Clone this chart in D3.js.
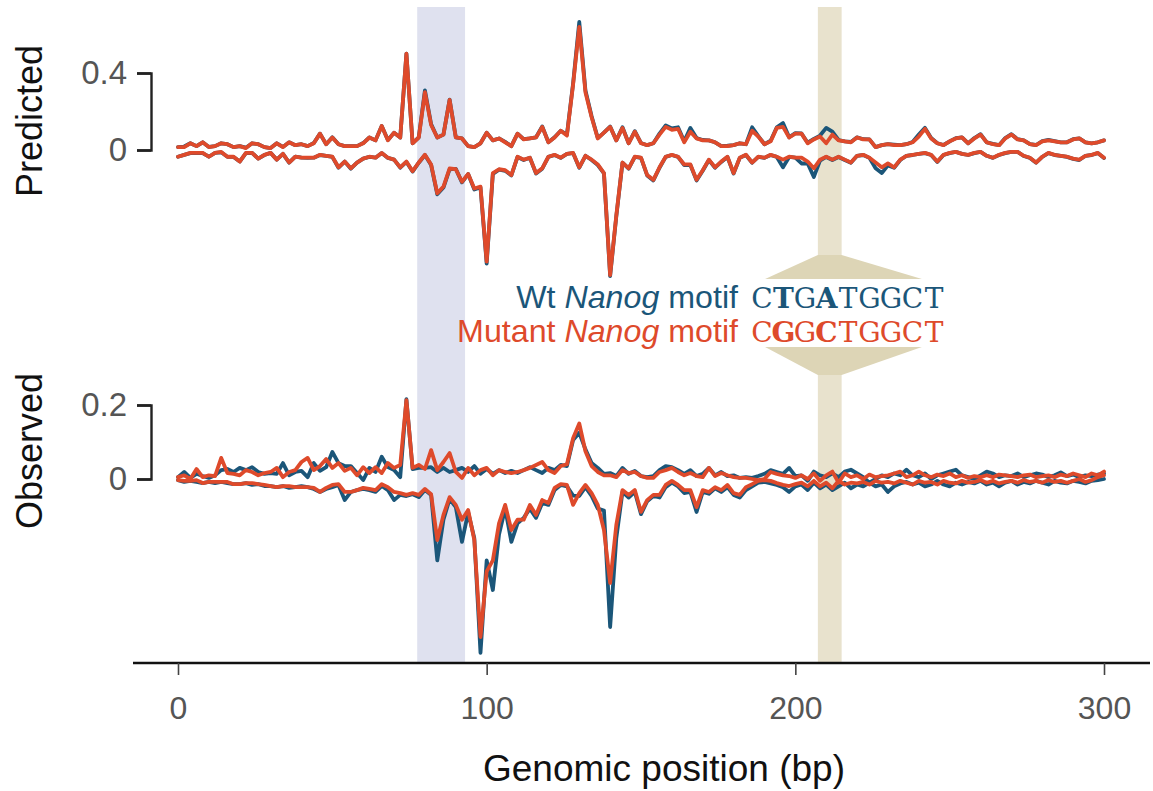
<!DOCTYPE html>
<html>
<head>
<meta charset="utf-8">
<script src="https://cdn.jsdelivr.net/npm/d3@7"></script>
<style>
  body { margin: 0; background: #fff; }
  svg { display: block; }
</style>
</head>
<body>
<svg id="chart" width="1153" height="791"></svg>
<script>
// Genomic positions (bp) at which the profiles are sampled
const positions = d3.range(0, 301, 2);

// Predicted profiles: positive strand (above zero) and negative strand (below zero)
const predWtPos = [
  .015,.018,.035,.02,.04,.016,.02,.035,.03,.015,
  .02,.012,.035,.03,.015,.01,.035,.016,.04,.025,
  .03,.02,.036,.085,.03,.066,.03,.02,.02,.02,
  .036,.065,.05,.125,.052,.09,.065,.50,.035,.066,
  .31,.135,.065,.08,.262,.066,.06,.02,.015,.035,
  .09,.05,.06,.042,.02,.085,.056,.06,.066,.122,
  .04,.066,.10,.08,.345,.665,.31,.175,.062,.09,
  .122,.05,.118,.035,.098,.036,.025,.035,.085,.128,
  .112,.118,.045,.115,.062,.052,.05,.04,.02,.022,
  .025,.035,.03,.118,.072,.03,.048,.118,.14,.066,
  .088,.086,.038,.058,.075,.115,.095,.052,.045,.042,
  .066,.056,.055,.015,.025,.03,.028,.025,.03,.042,
  .08,.115,.062,.035,.026,.045,.062,.066,.035,.062,
  .082,.04,.032,.025,.062,.082,.056,.05,.03,.026,
  .046,.052,.046,.04,.04,.056,.06,.04,.035,.04,
  .05
];
const predMutPos = [
  .015,.015,.035,.02,.04,.015,.02,.035,.03,.015,
  .02,.01,.035,.03,.015,.01,.035,.015,.04,.025,
  .03,.02,.035,.085,.03,.065,.03,.02,.02,.02,
  .035,.065,.05,.125,.05,.09,.065,.50,.035,.065,
  .30,.13,.065,.08,.26,.065,.06,.02,.015,.035,
  .09,.05,.06,.04,.02,.085,.055,.06,.065,.12,
  .04,.065,.10,.075,.34,.64,.30,.17,.06,.09,
  .12,.05,.115,.035,.095,.035,.025,.035,.08,.12,
  .105,.11,.04,.095,.06,.05,.05,.04,.02,.02,
  .025,.035,.03,.10,.07,.03,.045,.115,.12,.065,
  .085,.085,.035,.055,.07,.035,.08,.05,.045,.04,
  .065,.055,.055,.015,.025,.03,.025,.025,.03,.04,
  .07,.11,.06,.035,.025,.045,.06,.065,.035,.06,
  .08,.04,.03,.025,.06,.08,.055,.05,.03,.025,
  .045,.05,.045,.04,.04,.055,.06,.04,.035,.04,
  .05
];
const predWtNeg = [
  -.035,-.025,-.016,-.015,-.016,-.035,-.015,-.012,-.035,-.036,
  -.06,-.016,-.015,-.045,-.026,-.015,-.05,-.02,-.066,-.035,
  -.04,-.041,-.04,-.026,-.03,-.036,-.092,-.06,-.097,-.066,
  -.045,-.036,-.04,-.016,-.041,-.05,-.092,-.062,-.112,-.066,
  -.026,-.078,-.23,-.195,-.10,-.098,-.168,-.125,-.205,-.195,
  -.59,-.125,-.102,-.108,-.132,-.036,-.052,-.04,-.122,-.097,
  -.036,-.026,-.041,-.02,-.016,-.092,-.03,-.052,-.078,-.122,
  -.655,-.345,-.066,-.097,-.036,-.041,-.132,-.158,-.092,-.036,
  -.026,-.036,-.078,-.078,-.158,-.108,-.052,-.092,-.062,-.036,
  -.122,-.041,-.026,-.066,-.036,-.041,-.026,-.036,-.09,-.036,
  -.04,-.07,-.07,-.14,-.055,-.036,-.052,-.036,-.052,-.066,
  -.03,-.026,-.041,-.095,-.12,-.08,-.092,-.052,-.03,-.026,
  -.02,-.016,-.026,-.062,-.026,-.016,-.01,-.02,-.026,-.016,
  -.01,-.03,-.041,-.026,-.016,-.01,-.01,-.031,-.041,-.066,
  -.036,-.016,-.026,-.03,-.036,-.046,-.052,-.03,-.026,-.016,
  -.042
];
const predMutNeg = [
  -.035,-.025,-.015,-.015,-.015,-.035,-.015,-.01,-.035,-.035,
  -.06,-.015,-.015,-.045,-.025,-.015,-.05,-.02,-.065,-.035,
  -.04,-.04,-.04,-.025,-.03,-.035,-.09,-.06,-.095,-.065,
  -.045,-.035,-.04,-.015,-.04,-.05,-.09,-.06,-.11,-.065,
  -.025,-.075,-.225,-.19,-.095,-.10,-.165,-.125,-.20,-.19,
  -.58,-.12,-.10,-.105,-.13,-.035,-.05,-.04,-.12,-.095,
  -.035,-.025,-.04,-.02,-.015,-.09,-.03,-.05,-.075,-.12,
  -.65,-.34,-.065,-.095,-.035,-.04,-.13,-.155,-.09,-.035,
  -.025,-.035,-.075,-.075,-.155,-.105,-.05,-.09,-.06,-.035,
  -.12,-.04,-.025,-.065,-.035,-.04,-.025,-.035,-.05,-.035,
  -.04,-.04,-.06,-.095,-.05,-.035,-.05,-.035,-.05,-.065,
  -.03,-.025,-.04,-.065,-.09,-.07,-.09,-.05,-.03,-.025,
  -.02,-.015,-.025,-.06,-.025,-.015,-.01,-.02,-.025,-.015,
  -.01,-.03,-.04,-.025,-.015,-.01,-.01,-.03,-.04,-.065,
  -.035,-.015,-.025,-.03,-.035,-.045,-.05,-.03,-.025,-.015,
  -.04
];

// Observed profiles
const obsWtPos = [
  .005,.019,.003,.014,.008,.003,.01,.024,.027,.019,
  .03,.024,.032,.019,.014,.016,.014,.043,.01,.019,
  .022,.005,.043,.022,.032,.073,.043,.035,.035,.016,
  -.003,.03,.019,.06,.032,.024,.005,.216,.027,.03,
  .03,.032,.019,.03,.019,.024,.03,.019,.035,.014,
  .027,.014,.024,.016,.022,.016,.024,.032,.024,.016,
  .03,.024,.038,.035,.105,.125,.08,.043,.03,.014,
  .016,.008,.03,.014,.022,.008,.005,.008,.024,.035,
  .032,.024,.014,.024,.008,.014,.03,.01,.019,.008,
  .01,.003,.005,.003,.008,.014,.024,.019,.014,.03,
  .008,.01,-.005,.02,.01,.005,.015,.005,.02,.025,
  .015,.005,-.01,0,.01,.005,.015,.01,.025,.01,
  .005,.015,0,.01,.015,.02,.025,.01,.005,0,
  .01,.02,.015,.005,.01,.008,.015,.005,.01,.015,
  .012,.005,.01,.018,.008,.012,.005,.01,.008,.012,
  .015
];
const obsMutPos = [
  .005,.01,0,.027,.005,.01,.008,.057,.016,.014,
  .01,.024,.019,.01,.016,.019,.03,.005,.019,.024,
  .046,.057,.024,.035,.054,.03,.043,.022,.03,.01,
  .032,.016,.032,.016,.043,.03,.038,.213,.03,.038,
  .027,.078,.024,.046,.07,.019,.003,.03,.01,.024,
  .03,.01,.024,.019,.016,.019,.024,.03,.038,.046,
  .024,.016,.035,.04,.11,.15,.075,.035,.019,.01,
  .01,.005,.024,.016,.019,.008,.003,.003,.019,.024,
  .03,.019,.01,.016,.008,.005,.03,.008,.016,.01,
  .005,.003,.003,0,-.003,0,.019,.014,.01,.008,
  .003,.01,0,.015,-.005,.01,.02,-.01,.015,.005,
  .01,0,.012,.005,.008,.01,.015,.02,.005,.01,
  .02,.01,.005,.012,.008,.015,.005,.01,.003,.008,
  .005,.01,.005,.012,.01,.008,.005,.01,.012,.005,
  .008,.01,.005,.012,.008,.015,.01,.005,.015,.01,
  .02
];
const obsWtNeg = [
  -.003,-.008,-.005,-.008,-.011,-.008,-.011,-.008,-.011,-.014,
  -.014,-.011,-.016,-.014,-.019,-.019,-.022,-.019,-.024,-.022,
  -.019,-.022,-.027,-.035,-.027,-.022,-.016,-.057,-.035,-.03,
  -.027,-.03,-.035,-.019,-.03,-.057,-.043,-.046,-.041,-.049,
  -.03,-.043,-.22,-.11,-.054,-.076,-.17,-.09,-.16,-.47,
  -.22,-.30,-.15,-.08,-.17,-.12,-.105,-.08,-.105,-.065,
  -.07,-.03,-.016,-.02,-.045,-.046,-.022,-.046,-.08,-.085,
  -.40,-.16,-.035,-.05,-.035,-.095,-.06,-.046,-.05,-.022,
  -.01,-.02,-.038,-.035,-.089,-.035,-.04,-.025,-.035,-.022,
  -.043,-.05,-.03,-.02,-.01,-.008,-.012,-.016,-.022,-.035,
  -.02,-.015,-.03,-.01,-.025,-.015,-.03,-.02,-.01,-.025,
  -.015,-.02,-.01,-.02,-.015,-.035,-.02,-.012,-.008,-.015,
  -.01,-.02,-.015,-.005,-.015,-.02,-.01,-.015,-.008,-.012,
  -.005,-.015,-.01,-.02,-.01,-.005,-.015,-.008,-.012,-.005,
  -.01,-.015,-.005,-.01,-.012,-.005,-.008,-.012,-.005,-.003,
  0
];
const obsMutNeg = [
  -.003,-.005,-.005,-.003,-.011,-.008,-.008,-.008,-.008,-.014,
  -.014,-.011,-.011,-.014,-.016,-.019,-.022,-.019,-.019,-.022,
  -.022,-.022,-.024,-.035,-.024,-.016,-.014,-.035,-.035,-.03,
  -.024,-.027,-.03,-.014,-.022,-.035,-.038,-.043,-.038,-.043,
  -.027,-.041,-.165,-.097,-.049,-.07,-.11,-.084,-.165,-.427,
  -.25,-.22,-.12,-.07,-.138,-.11,-.11,-.07,-.097,-.057,
  -.065,-.024,-.014,-.016,-.07,-.038,-.016,-.038,-.07,-.138,
  -.281,-.124,-.03,-.043,-.03,-.089,-.057,-.043,-.043,-.016,
  -.005,-.016,-.03,-.03,-.076,-.03,-.035,-.022,-.03,-.016,
  -.038,-.043,-.022,-.014,-.005,-.003,-.005,-.011,-.016,-.019,
  -.014,-.01,-.02,-.005,-.02,-.01,-.025,-.005,-.015,-.01,
  -.012,-.008,-.015,-.005,-.01,-.008,-.012,-.005,-.01,-.015,
  -.005,-.01,-.008,-.015,-.005,-.01,-.012,-.005,-.01,-.008,
  -.003,-.01,-.005,-.012,-.008,-.005,-.01,-.003,-.008,-.005,
  -.01,-.003,-.008,-.005,-.01,-.005,0,-.008,-.003,.005,
  .01
];

// Highlighted regions (bp)
const regionStart = [77.5, 207.3];
const regionEnd   = [93, 215];

// Axis ticks
const xTicks = [0, 100, 200, 300];
const predTicks = [0, 0.4];
const obsTicks = [0, 0.2];

// Motif annotation
const motifLabels = ["Wt", "Mutant"];
const motifSeqs = ["CTGATGGCT", "CGGCTGGCT"];
const motifChanged = [1, 3];

// ---- styling ----
const WT_COLOR = "#1b5679";
const MUT_COLOR = "#de4a2b";
const SANS = "'Liberation Sans', Arial, Helvetica, sans-serif";

const svg = d3.select("#chart");
svg.append("rect").attr("width", 1153).attr("height", 791).attr("fill", "#fff");

const x = d3.scaleLinear().domain([0, 300]).range([178, 1104]);
const yPred = d3.scaleLinear().domain([0, 0.4]).range([150, 73]);
const yObs = d3.scaleLinear().domain([0, 0.2]).range([479, 405]);

const axisY = 663;
const bandTop = 7;

// Lavender region (full height)
svg.append("rect")
  .attr("x", x(regionStart[0])).attr("y", bandTop)
  .attr("width", x(regionEnd[0]) - x(regionStart[0]))
  .attr("height", axisY - bandTop)
  .attr("fill", "#dfe1ef");

// Tan region, split around the motif callout
const tanFill = "#e8e2cd";
const calloutFill = "#ddd5b6";
const bx0 = x(regionStart[1]), bx1 = x(regionEnd[1]);
const cx0 = x(190.2), cx1 = x(241);
svg.append("rect").attr("x", bx0).attr("y", bandTop)
  .attr("width", bx1 - bx0).attr("height", 255 - bandTop).attr("fill", tanFill);
svg.append("rect").attr("x", bx0).attr("y", 375)
  .attr("width", bx1 - bx0).attr("height", axisY - 375).attr("fill", tanFill);
svg.append("polygon")
  .attr("points", [[bx0, 255], [bx1, 255], [cx1, 279], [cx0, 279]].map(p => p.join(",")).join(" "))
  .attr("fill", calloutFill);
svg.append("polygon")
  .attr("points", [[cx0, 347], [cx1, 347], [bx1, 375], [bx0, 375]].map(p => p.join(",")).join(" "))
  .attr("fill", calloutFill);

// Profile lines
const series = [
  { vals: predWtPos, y: yPred, color: WT_COLOR },
  { vals: predWtNeg, y: yPred, color: WT_COLOR },
  { vals: obsWtPos, y: yObs, color: WT_COLOR },
  { vals: obsWtNeg, y: yObs, color: WT_COLOR },
  { vals: predMutPos, y: yPred, color: MUT_COLOR },
  { vals: predMutNeg, y: yPred, color: MUT_COLOR },
  { vals: obsMutPos, y: yObs, color: MUT_COLOR },
  { vals: obsMutNeg, y: yObs, color: MUT_COLOR }
];
series.forEach(s => {
  const line = d3.line()
    .x((d, i) => x(positions[i]))
    .y(d => s.y(d));
  svg.append("path")
    .datum(s.vals)
    .attr("d", line)
    .attr("fill", "none")
    .attr("stroke", s.color)
    .attr("stroke-width", 3.8)
    .attr("stroke-linejoin", "round")
    .attr("stroke-linecap", "round");
});

// X axis
svg.append("line")
  .attr("x1", 133).attr("x2", 1150)
  .attr("y1", axisY).attr("y2", axisY)
  .attr("stroke", "#111").attr("stroke-width", 2.5);
const gx = svg.append("g")
  .attr("transform", `translate(0,${axisY})`)
  .call(d3.axisBottom(x).tickValues(xTicks).tickSize(12).tickPadding(21));
gx.select(".domain").remove();
gx.selectAll(".tick line").attr("stroke", "#444").attr("stroke-width", 1.6);
gx.selectAll(".tick text")
  .attr("font-family", SANS).attr("font-size", 32).attr("fill", "#555");

svg.append("text")
  .attr("x", 664).attr("y", 781)
  .attr("text-anchor", "middle")
  .attr("font-family", SANS).attr("font-size", 37).attr("fill", "#111")
  .text("Genomic position (bp)");

// Y brackets
const fmt = d => d === 0 ? "0" : d3.format(".1f")(d);
[[yPred, predTicks], [yObs, obsTicks]].forEach(([ys, ticks]) => {
  const g = svg.append("g")
    .attr("transform", "translate(151,0)")
    .call(d3.axisLeft(ys).tickValues(ticks).tickSize(14).tickPadding(10).tickFormat(fmt));
  g.selectAll("path, line").attr("stroke", "#222").attr("stroke-width", 2.4);
  g.selectAll(".tick text")
    .attr("font-family", SANS).attr("font-size", 33).attr("fill", "#555");
});

// Panel titles
[["Predicted", 121], ["Observed", 451]].forEach(([t, cy]) => {
  svg.append("text")
    .attr("transform", `translate(42,${cy}) rotate(-90)`)
    .attr("text-anchor", "middle")
    .attr("font-family", SANS).attr("font-size", 36).attr("fill", "#111")
    .text(t);
});

// Motif annotation
const motifColors = [WT_COLOR, MUT_COLOR];
const baselines = [308, 342];
motifLabels.forEach((lab, k) => {
  const t = svg.append("text")
    .attr("x", 738).attr("y", baselines[k])
    .attr("text-anchor", "end")
    .attr("font-family", SANS).attr("font-size", 32.2)
    .attr("fill", motifColors[k]);
  t.append("tspan").text(lab + " ");
  t.append("tspan").attr("font-style", "italic").text("Nanog");
  t.append("tspan").text(" motif");

  svg.append("g").selectAll("text")
    .data(motifSeqs[k].split(""))
    .join("text")
    .attr("x", (d, i) => 762 + 21.5 * i)
    .attr("y", baselines[k])
    .attr("text-anchor", "middle")
    .attr("font-family", "'DejaVu Serif', serif")
    .attr("font-size", 28)
    .attr("font-weight", (d, i) => motifChanged.includes(i) ? "bold" : "normal")
    .attr("fill", motifColors[k])
    .text(d => d);
});
</script>
</body>
</html>
